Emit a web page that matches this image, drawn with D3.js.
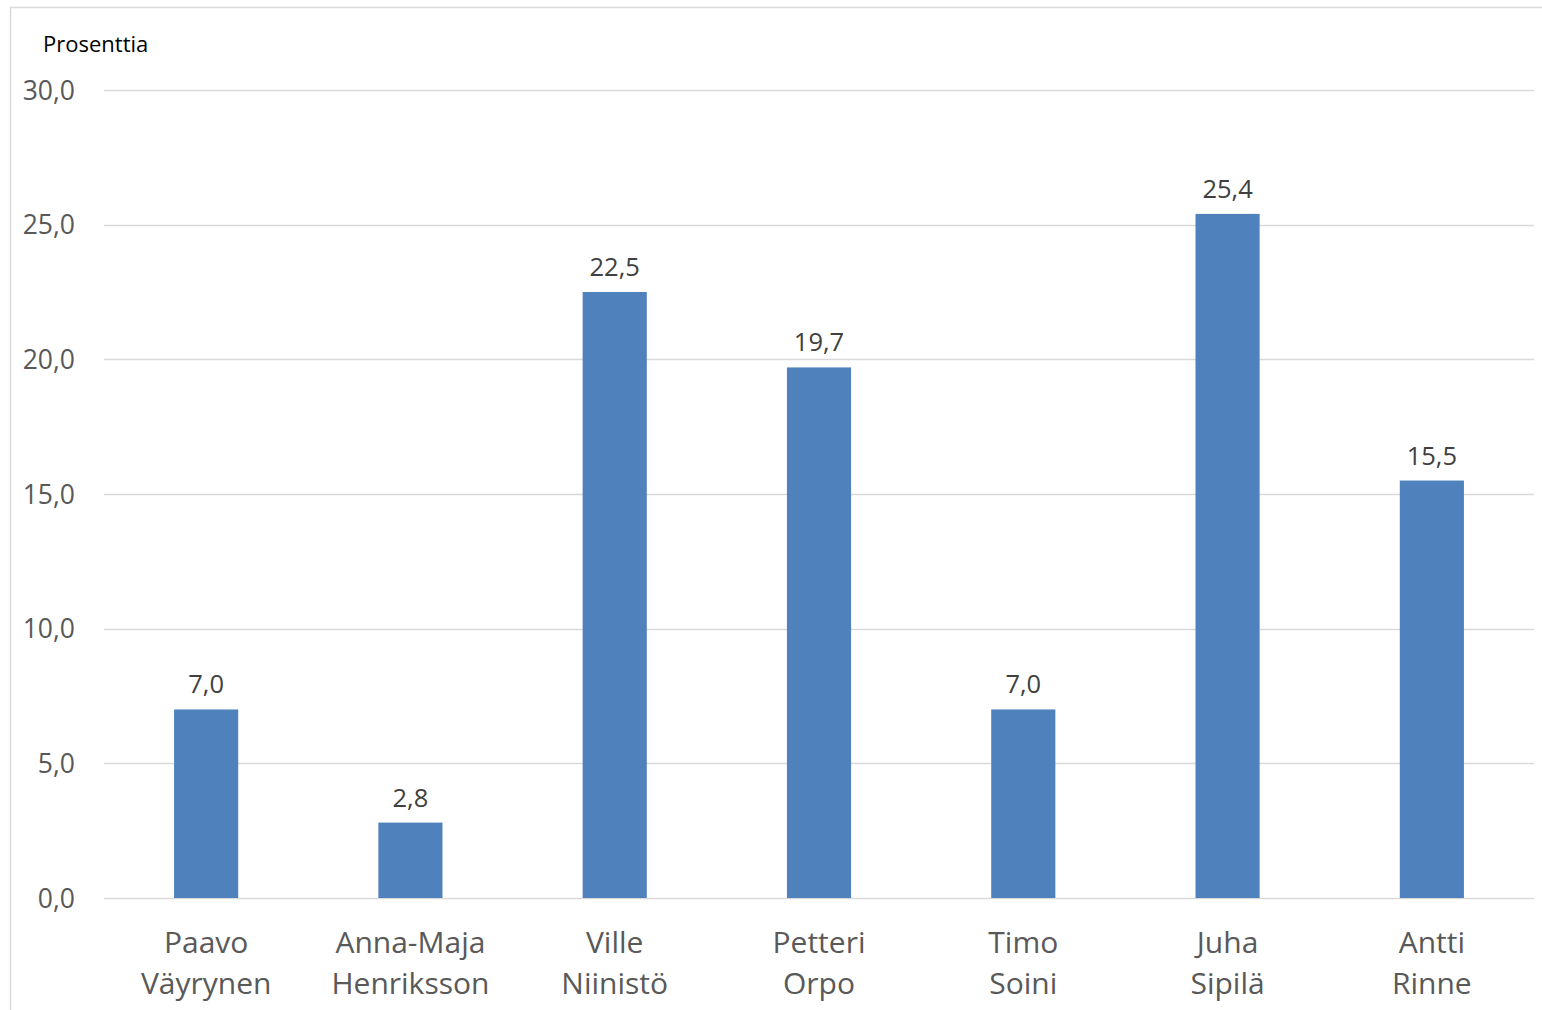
<!DOCTYPE html>
<html><head><meta charset="utf-8">
<script src="https://cdn.jsdelivr.net/npm/d3@7"></script>
<style>body{margin:0;background:#fff}svg{display:block}</style>
</head><body>
<svg id="c" width="1542" height="1010"></svg>
<script>
const names = [["Paavo","Väyrynen"],["Anna-Maja","Henriksson"],["Ville","Niinistö"],["Petteri","Orpo"],["Timo","Soini"],["Juha","Sipilä"],["Antti","Rinne"]];
const values = [7.0, 2.8, 22.5, 19.7, 7.0, 25.4, 15.5];
const ticks = [0, 5, 10, 15, 20, 25, 30];
const yTitle = "Prosenttia";

const font = "'Open Sans', sans-serif";
const svg = d3.select("#c");
const fmt = v => v.toFixed(1).replace(".", ",");

svg.append("rect").attr("x",10.5).attr("y",7.5).attr("width",1540).attr("height",1010)
  .attr("fill","none").attr("stroke","#d9d9d9").attr("stroke-width",1.5);

const x = d3.scaleBand().domain(d3.range(names.length)).range([104,1534]).paddingInner(0.686).paddingOuter(0.343);
const y = d3.scaleLinear().domain([0,30]).range([898,90]);

const g = svg.append("g");
g.selectAll(".grid").data(ticks).join("line")
  .attr("x1",104).attr("x2",1534).attr("y1",d=>Math.round(y(d))+0.5).attr("y2",d=>Math.round(y(d))+0.5)
  .attr("stroke","#d9d9d9").attr("stroke-width",1.3);

const yAxis = d3.axisLeft(y).tickValues(ticks).tickFormat(fmt).tickSize(0).tickPadding(0);
const ya = svg.append("g").attr("transform","translate(75,0)").call(yAxis);
ya.select(".domain").remove();
ya.selectAll("text").attr("font-family",font).attr("font-size",26.5).attr("fill","#595959").attr("dy","0.35em");

g.selectAll(".bar").data(values).join("rect")
  .attr("x",(d,i)=>x(i)).attr("width",x.bandwidth())
  .attr("y",d=>y(d)).attr("height",d=>y(0)-y(d)).attr("fill","#4f81bd");

g.selectAll(".lbl").data(values).join("text")
  .attr("x",(d,i)=>x(i)+x.bandwidth()/2).attr("y",d=>y(d)-16)
  .attr("text-anchor","middle").attr("font-family",font).attr("font-size",25.5).attr("fill","#404040")
  .text(fmt);

const xa = svg.append("g");
names.forEach((n,i)=>{
  const t = xa.append("text").attr("text-anchor","middle").attr("font-family",font).attr("font-size",30).attr("fill","#595959");
  n.forEach((line,j)=>{
    t.append("tspan").attr("x",x(i)+x.bandwidth()/2).attr("y",953+j*41).text(line);
  });
});

svg.append("text").attr("x",43).attr("y",52).attr("font-family",font).attr("font-size",22).attr("fill","#000").text(yTitle);
</script>
</body></html>
